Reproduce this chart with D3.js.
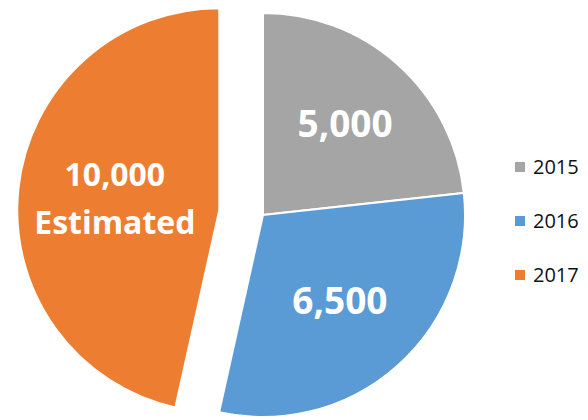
<!DOCTYPE html>
<html>
<head>
<meta charset="utf-8">
<script src="https://cdn.jsdelivr.net/npm/d3@7"></script>
<style>
  body { margin: 0; background: #fff; }
  svg { display: block; }
</style>
</head>
<body>
<div id="chart"></div>
<script>
const years = ['2015', '2016', '2017'];
const values = [5000, 6500, 10000];
const labelLines = [['5,000'], ['6,500'], ['10,000', 'Estimated']];
const colors = ['#a5a5a5', '#5b9bd5', '#ed7d31'];

const width = 588, height = 420;
const cx = 263, cy = 215, radius = 202;
const explode = 44;       // only the 2017 slice is pulled out
const explodedIndex = 2;

const svg = d3.select('#chart')
  .append('svg')
  .attr('width', width)
  .attr('height', height);

const pie = d3.pie().sort(null).value(d => d.value);
const data = pie(years.map((y, i) => ({ year: y, value: values[i], lines: labelLines[i], color: colors[i] })));

const arc = d3.arc().innerRadius(0).outerRadius(radius);

const offset = (d, i) => {
  if (i !== explodedIndex) return [0, 0];
  const mid = (d.startAngle + d.endAngle) / 2;
  return [Math.sin(mid) * explode, -Math.cos(mid) * explode];
};

// label sits near the area centroid of the sector, kept away from the tip
const labelPos = d => {
  const half = (d.endAngle - d.startAngle) / 2;
  const mid = d.startAngle + half;
  const r = Math.max(2 * radius * Math.sin(half) / (3 * half), radius * 0.52);
  return [Math.sin(mid) * r, -Math.cos(mid) * r];
};

const slices = svg.append('g')
  .attr('transform', `translate(${cx},${cy})`)
  .selectAll('g.slice')
  .data(data)
  .join('g')
  .attr('class', 'slice')
  .attr('transform', (d, i) => `translate(${offset(d, i)})`);

slices.append('path')
  .attr('d', arc)
  .attr('fill', d => d.data.color)
  .attr('stroke', '#fff')
  .attr('stroke-width', 2);

// data labels
slices.each(function(d) {
  const [lx, ly] = labelPos(d);
  const lines = d.data.lines;
  const size = lines.length > 1 ? 32 : 37;
  const lh = size * 1.5;
  const t = d3.select(this).append('text')
    .attr('text-anchor', 'middle')
    .attr('fill', '#fff')
    .style('font-family', '"Open Sans", sans-serif')
    .style('font-weight', 'bold')
    .style('font-size', size + 'px');
  lines.forEach((line, k) => {
    t.append('tspan')
      .attr('x', lx)
      .attr('y', ly + (k - (lines.length - 1) / 2) * lh + size * 0.36)
      .text(line);
  });
});

// Legend
const legend = svg.append('g')
  .attr('transform', 'translate(515,162)');

const items = legend.selectAll('g')
  .data(years)
  .join('g')
  .attr('transform', (d, i) => `translate(0,${i * 54})`);

items.append('rect')
  .attr('width', 10)
  .attr('height', 10)
  .attr('fill', (d, i) => colors[i]);

items.append('text')
  .attr('x', 18)
  .attr('y', 11.5)
  .style('font-family', '"Open Sans", sans-serif')
  .style('font-size', '20px')
  .attr('fill', '#111')
  .text(d => d);
</script>
</body>
</html>
